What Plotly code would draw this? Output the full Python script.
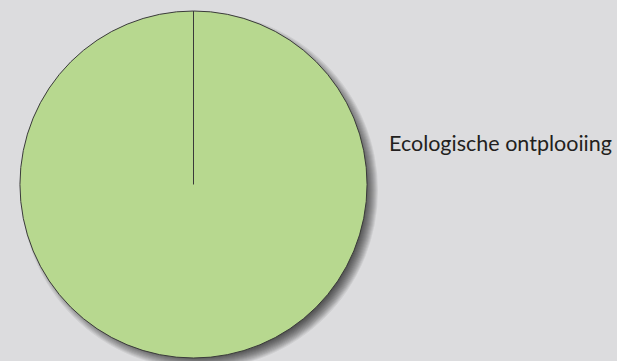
import plotly.graph_objects as go

labels = ["Ecologische ontplooiing"]
values = [100]
colors = ["#b7d88f"]

W, H = 617, 361
dom_x = [19 / W, 368 / W]
dom_y = [1 - 358 / H, 1 - 11 / H]

fig = go.Figure()
fig.add_trace(go.Pie(
    labels=labels, values=values, sort=False, direction="clockwise", rotation=0,
    marker=dict(colors=colors, line=dict(color="#3a3a3a", width=1)),
    textinfo="none", hoverinfo="label+percent", showlegend=False,
    domain=dict(x=dom_x, y=dom_y),
))

cx = (dom_x[0] + dom_x[1]) / 2
cy = (dom_y[0] + dom_y[1]) / 2
r = min((dom_x[1] - dom_x[0]) * W, (dom_y[1] - dom_y[0]) * H) / 2

shapes = []
# soft drop shadow (bottom-right)
dx, dy = 6, -6
for k in range(-10, 6):
    rr = r + k
    shapes.append(dict(
        type="circle", xref="paper", yref="paper", xsizemode="pixel", ysizemode="pixel",
        xanchor=cx, yanchor=cy, x0=dx - rr, x1=dx + rr, y0=dy - rr, y1=dy + rr,
        fillcolor="rgba(0,0,0,0.065)", line=dict(width=0), layer="below",
    ))
# radial slice edge from centre to top
shapes.append(dict(
    type="line", xref="paper", yref="paper", x0=cx, x1=cx, y0=cy, y1=cy + r / H,
    line=dict(color="#3a3a3a", width=1), layer="above",
))

fig.update_layout(
    width=W, height=H, margin=dict(l=0, r=0, t=0, b=0),
    paper_bgcolor="#dcdcde", plot_bgcolor="#dcdcde",
    shapes=shapes,
    annotations=[dict(
        text=labels[0], xref="paper", yref="paper", x=387 / W, y=1 - 143 / H,
        xanchor="left", yanchor="middle", showarrow=False,
        font=dict(family="Lato", size=21.5, color="#231f20"),
    )],
)

fig.write_html(
    "out.html",
    config={"displayModeBar": False},
    post_script="document.body.style.margin='0';document.body.style.background='#dcdcde';",
)
